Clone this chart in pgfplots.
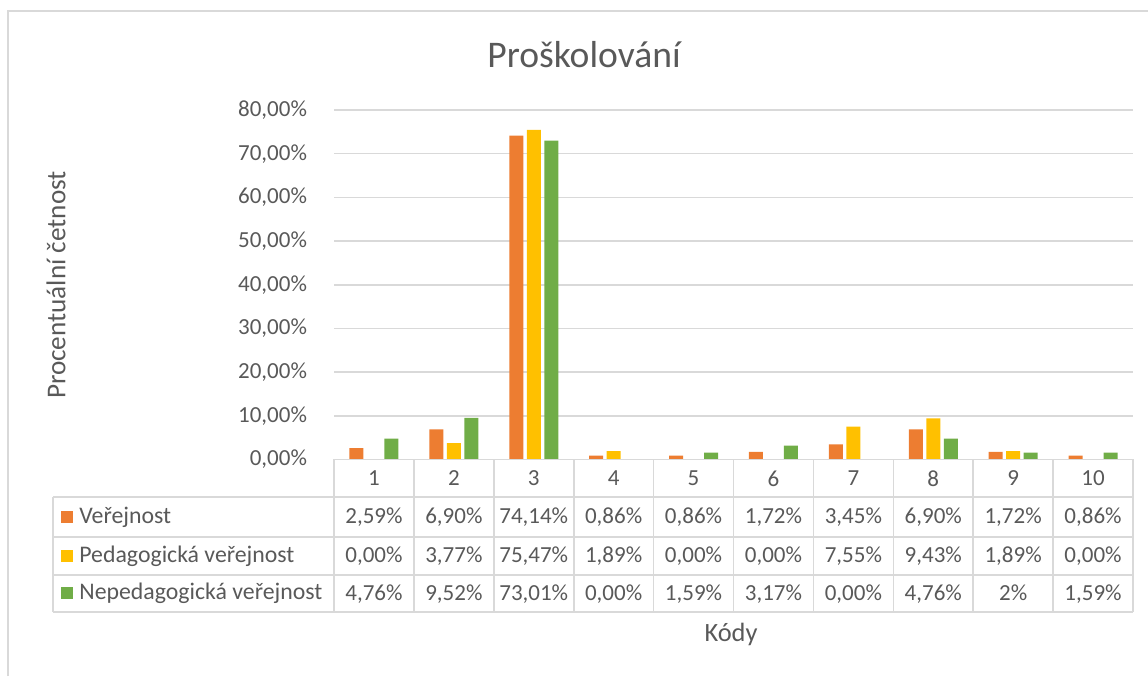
\documentclass[border=0pt]{standalone}
\usepackage{fontspec}
\setmainfont{Carlito}
\usepackage{pgfplots}
\pgfplotsset{compat=1.18}
\definecolor{xlorange}{HTML}{ED7D31}
\definecolor{xlyellow}{HTML}{FFC000}
\definecolor{xlgreen}{HTML}{70AD47}
\definecolor{xltext}{HTML}{595959}
\definecolor{xlgrid}{HTML}{D9D9D9}

\begin{document}
\begin{tikzpicture}
\useasboundingbox (0,0) rectangle (574pt,338pt);

\begin{axis}[
  at={(167pt,108.25pt)}, anchor=south west,
  scale only axis,
  width=399.5pt, height=174.75pt,
  xmin=0.5, xmax=10.5,
  ymin=0, ymax=80,
  ytick={0,10,...,80},
  yticklabel={\pgfmathprintnumber[fixed, fixed zerofill, precision=2, use comma]{\tick}\%},
  /pgf/number format/assume math mode=true,
  xtick={1,...,10},
  xticklabel style={anchor=center, yshift=-9.5pt},
  ymajorgrids,
  grid style={xlgrid, line width=0.8pt},
  axis line style={draw=none},
  tick style={draw=none},
  ticklabel style={font=\fontsize{11.5}{13}\selectfont, text=xltext},
  yticklabel style={xshift=-10pt},
  every axis plot/.append style={ybar, bar width=7pt, draw=none},
]
\addplot[fill=xlorange, bar shift=-8.75pt] coordinates {
  (1,2.59) (2,6.90) (3,74.14) (4,0.86) (5,0.86) (6,1.72) (7,3.45) (8,6.90) (9,1.72) (10,0.86)
};
\addplot[fill=xlyellow, bar shift=0pt] coordinates {
  (1,0.00) (2,3.77) (3,75.47) (4,1.89) (5,0.00) (6,0.00) (7,7.55) (8,9.43) (9,1.89) (10,0.00)
};
\addplot[fill=xlgreen, bar shift=8.75pt] coordinates {
  (1,4.76) (2,9.52) (3,73.01) (4,0.00) (5,1.59) (6,3.17) (7,0.00) (8,4.76) (9,1.59) (10,1.59)
};
\end{axis}

% 1 unit = 1 px of the reference, y grows downwards
\begin{scope}[shift={(0,338pt)}, x=0.5pt, y=-0.5pt]
\draw[xlgrid, line width=0.8pt] (8,676) -- (8,11) -- (1148,11);

% data table
\begin{scope}[xlgrid, line width=0.8pt]
\draw (334,459.5) -- (1133,459.5);
\foreach \yy in {497,537,575,612} \draw (53,\yy) -- (1133,\yy);
\draw (53,497) -- (53,612);
\foreach \k in {0,...,10} \draw ({334+\k*79.9},459.5) -- ({334+\k*79.9},612);
\end{scope}

\begin{scope}[font=\fontsize{11.5}{13}\selectfont, text=xltext]
\fill[xlorange] (61,511) rectangle (73,523);
\fill[xlyellow] (61,550) rectangle (73,562);
\fill[xlgreen] (61,587.5) rectangle (73,599.5);
\begin{scope}[font=\fontsize{11.9}{14}\selectfont]
\node[anchor=west, inner sep=0pt] at (79,517) {Veřejnost};
\node[anchor=west, inner sep=0pt] at (79,556) {Pedagogická veřejnost};
\node[anchor=west, inner sep=0pt] at (79,593.5) {Nepedagogická veřejnost};
\end{scope}
\foreach \v [count=\i] in {{2,59\%},{6,90\%},{74,14\%},{0,86\%},{0,86\%},{1,72\%},{3,45\%},{6,90\%},{1,72\%},{0,86\%}}
  \node[anchor=base] at ({334+(\i-0.5)*79.9},524) {\v};
\foreach \v [count=\i] in {{0,00\%},{3,77\%},{75,47\%},{1,89\%},{0,00\%},{0,00\%},{7,55\%},{9,43\%},{1,89\%},{0,00\%}}
  \node[anchor=base] at ({334+(\i-0.5)*79.9},563) {\v};
\foreach \v [count=\i] in {{4,76\%},{9,52\%},{73,01\%},{0,00\%},{1,59\%},{3,17\%},{0,00\%},{4,76\%},{2\%},{1,59\%}}
  \node[anchor=base] at ({334+(\i-0.5)*79.9},600.5) {\v};
\end{scope}

\node[text=xltext, font=\fontsize{18.8}{22}\selectfont] at (584,55) {Proškolování};
\node[text=xltext, font=\fontsize{13.6}{16}\selectfont, rotate=90] at (56,285) {Procentuální četnost};
\node[text=xltext, font=\fontsize{13.2}{16}\selectfont] at (731,634) {Kódy};
\end{scope}
\end{tikzpicture}
\end{document}
